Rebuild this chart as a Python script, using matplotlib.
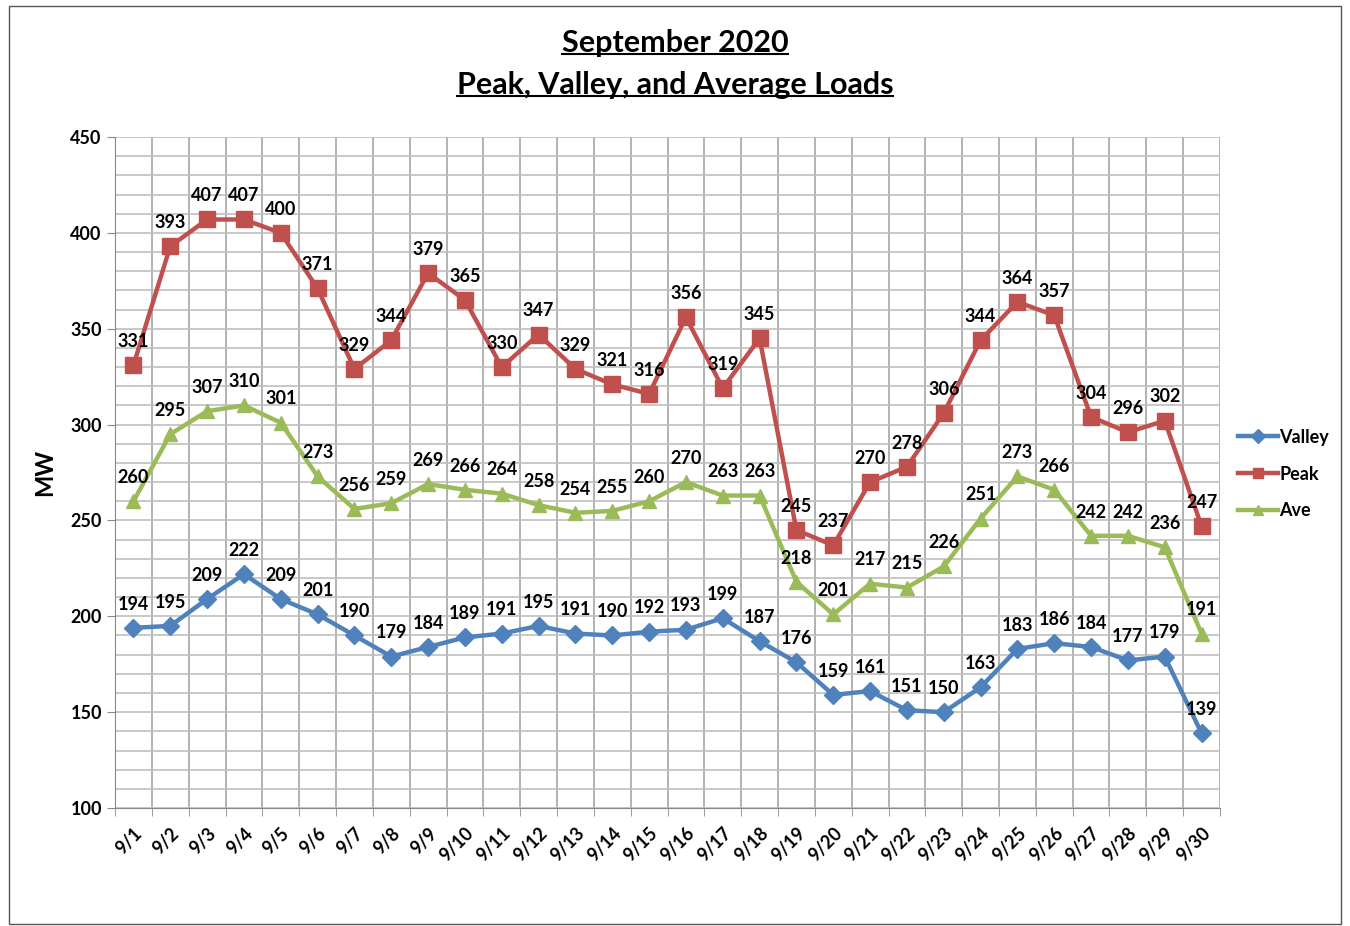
import numpy as np
import matplotlib.pyplot as plt
from matplotlib.lines import Line2D
from matplotlib.patches import Rectangle
from matplotlib.ticker import MultipleLocator, FixedLocator

plt.rcParams['font.family'] = ['Lato', 'DejaVu Sans']

# Data
days = [f'9/{d}' for d in range(1, 31)]
valley = [194, 195, 209, 222, 209, 201, 190, 179, 184, 189, 191, 195, 191, 190, 192,
          193, 199, 187, 176, 159, 161, 151, 150, 163, 183, 186, 184, 177, 179, 139]
peak = [331, 393, 407, 407, 400, 371, 329, 344, 379, 365, 330, 347, 329, 321, 316,
        356, 319, 345, 245, 237, 270, 278, 306, 344, 364, 357, 304, 296, 302, 247]
ave = [260, 295, 307, 310, 301, 273, 256, 259, 269, 266, 264, 258, 254, 255, 260,
       270, 263, 263, 218, 201, 217, 215, 226, 251, 273, 266, 242, 242, 236, 191]

series = [
    ('Valley', valley, '#4F81BD', 'D', 9),
    ('Peak', peak, '#C0504D', 's', 11),
    ('Ave', ave, '#9BBB59', '^', 10),
]

fig = plt.figure(figsize=(13.5, 9.26), dpi=100)
ax = fig.add_axes([0.0852, 0.1274, 0.8185, 0.7246])

x = np.arange(len(days))
for name, vals, color, marker, ms in series:
    ax.plot(x, vals, color=color, lw=3.2, marker=marker, markersize=ms,
            label=name, zorder=3)
    for xi, v in zip(x, vals):
        ax.annotate(str(v), (xi, v), xytext=(0, 11), textcoords='offset points',
                    ha='center', va='bottom', fontsize=13, fontweight='bold',
                    zorder=4)

ax.set_xlim(-0.5, len(days) - 0.5)
ax.set_ylim(100, 450)
ax.yaxis.set_major_locator(MultipleLocator(50))
ax.yaxis.set_minor_locator(MultipleLocator(10))
ax.set_xticks(x)
ax.set_xticklabels(days, rotation=45, ha='right', rotation_mode='anchor',
                   fontsize=13, fontweight='bold')
ax.xaxis.set_minor_locator(FixedLocator(np.arange(-0.5, len(days), 1)))
ax.tick_params(axis='x', which='major', length=0, pad=12)
ax.tick_params(axis='x', which='minor', length=6, color='#888888')
ax.tick_params(axis='y', which='major', length=6, color='#888888', labelsize=13)
ax.tick_params(axis='y', which='minor', length=0)
for lbl in ax.get_yticklabels():
    lbl.set_fontweight('bold')

ax.grid(axis='y', which='both', color='#BFBFBF', lw=1.2, zorder=0)
ax.grid(axis='x', which='minor', color='#A6A6A6', lw=1.2, zorder=0)
ax.grid(axis='x', which='major', visible=False)
for side in ['top', 'right']:
    ax.spines[side].set_visible(False)
ax.spines['left'].set_color('#888888')
ax.spines['bottom'].set_color('#888888')

ax.set_ylabel('MW', fontsize=17, fontweight='bold', labelpad=10)

leg = fig.legend(loc='center left', bbox_to_anchor=(0.905, 0.488), frameon=False,
                 prop={'weight': 'bold', 'size': 13}, handlelength=2.2,
                 handletextpad=0.1, labelspacing=1.1)
for h in leg.legend_handles:
    h.set_markersize(7)

# title with underline
t1 = fig.text(0.5, 0.954, 'September 2020', ha='center', va='center',
              fontsize=22, fontweight='bold')
t2 = fig.text(0.5, 0.908, 'Peak, Valley, and Average Loads', ha='center', va='center',
              fontsize=22, fontweight='bold')
fig.canvas.draw()
r = fig.canvas.get_renderer()
inv = fig.transFigure.inverted()
for t in (t1, t2):
    bb = t.get_window_extent(r)
    (x0, y0), (x1, y1) = inv.transform([(bb.x0, bb.y0), (bb.x1, bb.y1)])
    fig.add_artist(Line2D([x0, x1], [y0 + 0.003, y0 + 0.003], color='black', lw=1.5,
                          transform=fig.transFigure))

fig.add_artist(Rectangle((0.007, 0.002), 0.986, 0.992, fill=False, ec='#555555',
                         lw=1, transform=fig.transFigure))

fig.savefig('out.png', dpi=100)
